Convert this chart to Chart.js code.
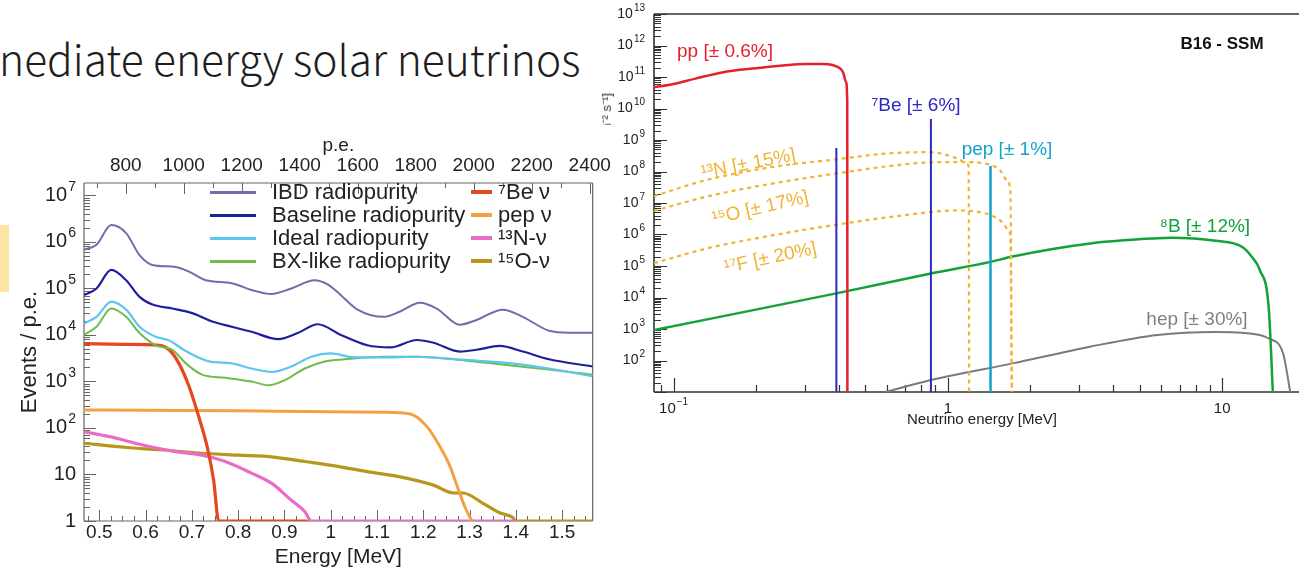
<!DOCTYPE html>
<html lang="en">
<head>
<meta charset="UTF-8">
<title>Intermediate energy solar neutrinos</title>
<script src="https://cdn.jsdelivr.net/npm/chart.js@4.4.1/dist/chart.umd.min.js"></script>
<style>
  html, body { margin: 0; padding: 0; background: #fff; }
  body {
    width: 1299px; height: 571px; overflow: hidden; position: relative;
    font-family: "Liberation Sans", Arial, sans-serif; color: #222;
  }
  .slide-title {
    position: absolute; left: -1px; top: 37px; line-height: 1;
    font-family: "Noto Sans CJK SC", "Noto Sans", sans-serif; font-weight: 300;
    font-size: 42.5px; color: #1e1e1e; white-space: nowrap;
  }
  .tab { position: absolute; left: 0; top: 225px; width: 9px; height: 67px; background: #fde4a2; z-index: 5; }
  #flux-wrap { position: absolute; left: 600px; top: 0; width: 720px; height: 440px; }
  #spectrum-wrap {
    position: absolute; left: 0; top: 125px; width: 617px; height: 446px;
    background: #fff; overflow: hidden; z-index: 2;
  }
  .legend-item { position: absolute; height: 24px; }
  .legend-item i { position: absolute; top: 11px; display: block; }
  .legend-item span { position: absolute; top: 0; line-height: 24px; font-size: 22px; white-space: nowrap; color: #222; }
  .note {
    position: absolute; white-space: nowrap; line-height: 1; font-size: 19px;
    transform: translate(-50%, -50%); z-index: 3;
  }
  .ytitle-frag {
    position: absolute; left: 600px; top: 93px; font-size: 13px; line-height: 13px;
    writing-mode: vertical-rl; transform: rotate(180deg); white-space: nowrap; color: #333;
  }
</style>
</head>
<body>
  <div class="slide-title">nediate energy solar neutrinos</div>
  <div class="tab"></div>

  <div id="flux-wrap"><canvas id="flux" width="720" height="440"></canvas></div>
  <div class="ytitle-frag">cm⁻² s⁻¹]</div>

  <div class="note" style="left:725px; top:50px; color:#e3202b;">pp [± 0.6%]</div>
  <div class="note" style="left:916px; top:104px; color:#2a2ac0;">⁷Be [± 6%]</div>
  <div class="note" style="left:1007px; top:148px; color:#12a4c8;">pep [± 1%]</div>
  <div class="note" style="left:1222px; top:43px; color:#111; font-weight:bold; font-size:17px;">B16 - SSM</div>
  <div class="note" style="left:1205px; top:225px; color:#12a23a;">⁸B [± 12%]</div>
  <div class="note" style="left:1197px; top:318px; color:#808080;">hep [± 30%]</div>
  <div class="note" style="left:748px; top:163px; color:#f2b233; transform:translate(-50%,-50%) rotate(-11deg);">¹³N [± 15%]</div>
  <div class="note" style="left:760px; top:207px; color:#f2b233; transform:translate(-50%,-50%) rotate(-13deg);">¹⁵O [± 17%]</div>
  <div class="note" style="left:770px; top:257px; color:#f2b233; transform:translate(-50%,-50%) rotate(-12deg);">¹⁷F [± 20%]</div>

  <div id="spectrum-wrap">
    <canvas id="spectrum" width="617" height="446"></canvas>
  </div>

<script>
  // ---- left panel: expected event spectra (Events / p.e. vs energy in MeV) ----
  const eIBD  = [0.467,0.494,0.526,0.558,0.587,0.615,0.665,0.694,0.73,0.786,0.829,0.872,0.915,0.965,0.995,1.015,1.058,1.115,1.15,1.193,1.229,1.279,1.315,1.372,1.415,1.472,1.515,1.566];
  const nIBD  = [6.8e5,8.7e5,2.3e6,1.55e6,5.2e5,3.2e5,2.9e5,2.3e5,1.5e5,1.3e5,9.3e4,7.6e4,1.0e5,1.5e5,1.2e5,8.3e4,3.5e4,2.45e4,3.2e4,4.9e4,3.7e4,1.66e4,2.1e4,3.5e4,2.45e4,1.23e4,1.12e4,1.12e4];
  const eBase = [0.467,0.494,0.526,0.558,0.587,0.615,0.658,0.701,0.744,0.786,0.829,0.887,0.929,0.972,1.022,1.079,1.129,1.186,1.222,1.279,1.315,1.365,1.415,1.472,1.566];
  const nBase = [7.2e4,1.0e5,2.5e5,1.5e5,6.6e4,4.5e4,3.7e4,2.95e4,1.95e4,1.5e4,1.17e4,8.1e3,1.1e4,1.7e4,1.0e4,6.0e3,5.4e3,7.8e3,6.8e3,4.4e3,4.8e3,5.8e3,4.4e3,3.0e3,2.1e3];
  const eIdeal = [0.467,0.494,0.526,0.558,0.587,0.622,0.651,0.687,0.737,0.786,0.829,0.872,0.915,0.958,1.0,1.05,1.115,1.186,1.293,1.40,1.472,1.566];
  const nIdeal = [1.75e4,2.45e4,5.2e4,3.5e4,1.5e4,9.1e3,7.6e3,4.5e3,2.7e3,2.45e3,1.9e3,1.6e3,2.1e3,3.4e3,4.0e3,3.3e3,3.3e3,3.4e3,2.9e3,2.4e3,1.9e3,1.3e3];
  const eBX   = [0.467,0.494,0.526,0.558,0.587,0.622,0.658,0.687,0.722,0.772,0.829,0.865,0.901,0.944,0.987,1.03,1.115,1.186,1.293,1.40,1.472,1.566];
  const nBX   = [1.0e4,1.5e4,3.7e4,2.45e4,1.1e4,6.0e3,4.8e3,2.45e3,1.4e3,1.2e3,1.0e3,830,1.07e3,1.9e3,2.7e3,3.0e3,3.4e3,3.4e3,2.8e3,2.15e3,1.8e3,1.4e3];
  const eBe7  = [0.467,0.55,0.63,0.651,0.672,0.694,0.715,0.733,0.747,0.758,0.95];
  const nBe7  = [6.5e3,6.3e3,6.0e3,4.8e3,2.45e3,780,174,40,7.6,1,1];
  const ePep  = [0.467,0.6,0.8,1.0,1.115,1.172,1.208,1.236,1.258,1.276,1.29,1.305];
  const nPep  = [245,240,234,224,219,200,107,40,14.8,4.7,2.0,1];
  const eN13  = [0.467,0.523,0.594,0.665,0.722,0.772,0.829,0.872,0.915,0.944,0.958,1.40];
  const nN13  = [83,65,43,31,26,19,10.7,6.5,2.8,1.6,1,1];
  const eO15  = [0.467,0.558,0.63,0.715,0.80,0.872,0.944,1.015,1.079,1.15,1.222,1.265,1.286,1.329,1.365,1.393,1.40,1.566];
  const nO15  = [47,38,34,29,26,24,19,15,11.5,8.9,5.9,4.0,4.0,2.4,1.5,1.2,1,1];

  const energyTicks = [0.5,0.6,0.7,0.8,0.9,1,1.1,1.2,1.3,1.4,1.5];
  const peTicks = [800,1000,1200,1400,1600,1800,2000,2200,2400];
  const eventTicks = [1,10,1e2,1e3,1e4,1e5,1e6,1e7];

  // ---- right panel: B16-SSM solar neutrino fluxes vs neutrino energy ----
  const ePP  = [0.0848,0.1,0.12,0.15,0.2,0.25,0.3,0.35,0.38,0.40,0.415,0.425,0.4295,0.43];
  const fPP  = [4.7e10,6.0e10,8.9e10,1.4e11,1.9e11,2.3e11,2.6e11,2.6e11,2.4e11,2.0e11,1.4e11,7e10,1.6e10,10];
  const eBe7Lines = [0.392,0.867];
  const fBe7Lines = [5.6e8,4.6e9];
  const ePepLine = [1.43];
  const fPepLine = [1.5e8];
  const eN13f = [0.0848,0.132,0.231,0.394,0.616,0.86,1.02,1.11,1.17,1.19,1.195];
  const fN13  = [1.66e7,5.4e7,1.41e8,2.45e8,3.8e8,4.1e8,3.1e8,2.3e8,1.8e8,1.4e8,10];
  const eO15f = [0.0848,0.132,0.231,0.394,0.616,0.86,1.14,1.38,1.55,1.64,1.69,1.71];
  const fO15  = [5.6e6,1.6e7,4.2e7,8.7e7,1.5e8,1.95e8,2.0e8,1.75e8,1.1e8,5.4e7,2.3e7,10];
  const eF17f = [0.0848,0.132,0.231,0.428,0.71,1.07,1.29,1.47,1.59,1.66,1.69,1.71];
  const fF17  = [1.23e5,3.6e5,9.5e5,2.3e6,4.2e6,5.8e6,5.2e6,3.7e6,2.3e6,1.4e6,8.5e5,10];
  const eB8  = [0.0848,0.392,0.867,1.43,1.72,3.3,5.8,6.5,9.46,11.8,12.8,13.7,14.8,15.3];
  const fB8  = [930,1.35e4,5.8e4,1.35e5,2.0e5,5.2e5,7.6e5,7.9e5,6.3e5,4.1e5,2.0e5,7.6e4,4.0e3,10];
  const eHep = [0.59,0.867,1.72,3.3,5.8,9.46,11.8,14.8,16.7,17.7];
  const fHep = [10,24,81,275,650,810,760,500,160,10];
  const fluxFloor = 10;

  const nuTicks = [0.1,1,10];
  const fluxTicks = [1e2,1e3,1e4,1e5,1e6,1e7,1e8,1e9,1e10,1e11,1e12,1e13];

  Chart.defaults.font.family = '"Liberation Sans", Arial, sans-serif';
  Chart.defaults.color = '#222';
  const FONT = '"Liberation Sans", Arial, sans-serif';

  function logMinors(lo, hi) {
    const out = [];
    for (let k = lo; k < hi; k++) for (let m = 2; m <= 9; m++) out.push(m * Math.pow(10, k));
    return out;
  }
  function steps(a, b, d) {
    const out = [];
    for (let v = a; v <= b + 1e-9; v += d) out.push(v);
    return out;
  }
  const pairs = (xs, ys) => xs.map((x, i) => ({x, y: ys[i]}));
  function verticals(xs, tops) {
    const out = [];
    xs.forEach((x, i) => { out.push({x, y: fluxFloor}, {x, y: tops[i]}, {x: x * 1.01, y: null}); });
    return out;
  }

  // draws "10" with a raised exponent, the way the original plots label decades
  function drawPow(ctx, v, x, y, align, size, supSize) {
    const k = Math.round(Math.log10(v));
    const base = k === 0 ? '1' : '10';
    const exp = (k === 0 || k === 1) ? '' : String(k).replace('-', '\u2212');
    ctx.font = size + 'px ' + FONT;
    const wb = ctx.measureText(base).width;
    ctx.font = supSize + 'px ' + FONT;
    const we = exp ? ctx.measureText(exp).width + 1 : 0;
    let x0 = x;
    if (align === 'right') x0 = x - wb - we;
    if (align === 'center') x0 = x - (wb + we) / 2;
    ctx.textAlign = 'left';
    ctx.textBaseline = 'middle';
    ctx.font = size + 'px ' + FONT;
    ctx.fillText(base, x0, y);
    if (exp) {
      ctx.font = supSize + 'px ' + FONT;
      ctx.fillText(exp, x0 + wb + 1, y - size * 0.42);
    }
  }

  // frame, inward tick marks and decade labels, ROOT style
  const axisMarks = {
    id: 'axisMarks',
    beforeDatasetsDraw(chart, args, opts) {
      const {ctx, chartArea: a} = chart;
      ctx.save();
      ctx.strokeStyle = opts.color;
      ctx.lineWidth = opts.frameWidth;
      ctx.beginPath();
      opts.frame.forEach(side => {
        if (side === 'left') { ctx.moveTo(a.left, a.top); ctx.lineTo(a.left, a.bottom); }
        if (side === 'right') { ctx.moveTo(a.right, a.top); ctx.lineTo(a.right, a.bottom); }
        if (side === 'top') { ctx.moveTo(a.left, a.top); ctx.lineTo(a.right, a.top); }
        if (side === 'bottom') { ctx.moveTo(a.left, a.bottom); ctx.lineTo(a.right, a.bottom); }
      });
      ctx.stroke();
      ctx.lineWidth = opts.tickWidth;
      opts.marks.forEach(m => {
        const s = chart.scales[m.scale];
        ctx.beginPath();
        m.values.forEach(v => {
          if (v < s.min || v > s.max) return;
          const p = Math.round(s.getPixelForValue(v)) + 0.5;
          if (m.side === 'left') { ctx.moveTo(a.left, p); ctx.lineTo(a.left + m.len, p); }
          if (m.side === 'bottom') { ctx.moveTo(p, a.bottom); ctx.lineTo(p, a.bottom - m.len); }
          if (m.side === 'top') { ctx.moveTo(p, a.top); ctx.lineTo(p, a.top + m.len); }
        });
        ctx.stroke();
      });
      ctx.fillStyle = opts.labelColor;
      (opts.powLabels || []).forEach(L => {
        const s = chart.scales[L.scale];
        L.values.forEach(v => {
          const p = s.getPixelForValue(v);
          if (L.side === 'left') drawPow(ctx, v, a.left - L.pad, p, 'right', L.size, L.sup);
          if (L.side === 'bottom') drawPow(ctx, v, p, a.bottom + L.pad, 'center', L.size, L.sup);
        });
      });
      ctx.restore();
    }
  };

  // ---------- left chart ----------
  const spectra = [
    {label: 'IBD radiopurity',      x: eIBD,  y: nIBD,  color: '#7d66aa', width: 2},
    {label: 'Baseline radiopurity', x: eBase, y: nBase, color: '#1f1f9e', width: 2.2},
    {label: 'Ideal radiopurity',    x: eIdeal,y: nIdeal,color: '#5cc6ef', width: 2.2},
    {label: 'BX-like radiopurity',  x: eBX,   y: nBX,   color: '#6dbd4b', width: 2},
    {label: '⁷Be ν',                x: eBe7,  y: nBe7,  color: '#e8461c', width: 3.2},
    {label: 'pep ν',                x: ePep,  y: nPep,  color: '#f2a244', width: 3},
    {label: '¹³N-ν',                x: eN13,  y: nN13,  color: '#eb6cc8', width: 3.2},
    {label: '¹⁵O-ν',                x: eO15,  y: nO15,  color: '#b8961c', width: 3.2}
  ];

  new Chart(document.getElementById('spectrum'), {
    type: 'line',
    data: {
      datasets: spectra.map(s => ({
        label: s.label, data: pairs(s.x, s.y), borderColor: s.color, borderWidth: s.width,
        pointRadius: 0, fill: false, cubicInterpolationMode: 'monotone'
      }))
    },
    options: {
      responsive: false, animation: false, devicePixelRatio: 1,
      layout: {padding: {left: 0, right: 20, top: 0, bottom: 0}},
      plugins: {
        legend: {display: false}, tooltip: {enabled: false},
        axisMarks: {
          color: '#666', frameWidth: 1.2, tickWidth: 1, labelColor: '#222',
          frame: ['left', 'right', 'top', 'bottom'],
          marks: [
            {scale: 'y', side: 'left', len: 12, values: eventTicks},
            {scale: 'y', side: 'left', len: 6, values: logMinors(0, 8)},
            {scale: 'x', side: 'bottom', len: 11, values: energyTicks},
            {scale: 'x', side: 'bottom', len: 5, values: steps(0.475, 1.575, 0.025)},
            {scale: 'pe', side: 'top', len: 11, values: peTicks},
            {scale: 'pe', side: 'top', len: 5, values: steps(700, 2400, 100)}
          ],
          powLabels: [{scale: 'y', side: 'left', pad: 8, size: 20, sup: 14, values: eventTicks}]
        }
      },
      scales: {
        x: {
          type: 'linear', position: 'bottom', min: 0.467, max: 1.566,
          afterBuildTicks: s => { s.ticks = energyTicks.map(v => ({value: v})); },
          afterFit: s => { s.height = 50; },
          grid: {display: false, drawTicks: false}, border: {display: false},
          ticks: {font: {size: 19}, padding: 0, maxRotation: 0, autoSkip: false, callback: v => String(v)},
          title: {display: true, text: 'Energy [MeV]', font: {size: 21}, padding: {top: 0, bottom: 1}}
        },
        pe: {
          type: 'linear', position: 'top', min: 656, max: 2410,
          afterBuildTicks: s => { s.ticks = peTicks.map(v => ({value: v})); },
          afterFit: s => { s.height = 58; },
          grid: {display: false, drawTicks: false}, border: {display: false},
          ticks: {font: {size: 19}, padding: 6, maxRotation: 0, autoSkip: false, callback: v => String(v)},
          title: {display: true, text: 'p.e.', font: {size: 19}, padding: {top: 9, bottom: 0}}
        },
        y: {
          type: 'logarithmic', position: 'left', min: 1, max: 1.85e7,
          afterBuildTicks: s => { s.ticks = eventTicks.map(v => ({value: v})); },
          afterFit: s => { s.width = 84; },
          grid: {display: false, drawTicks: false}, border: {display: false},
          ticks: {display: false},
          title: {display: true, text: 'Events / p.e.', font: {size: 22}, padding: {top: 17, bottom: 0}}
        }
      }
    },
    plugins: [axisMarks]
  });

  // two-column legend, built from the same series list
  const wrap = document.getElementById('spectrum-wrap');
  const rowsY = [67, 90, 113, 136];
  spectra.forEach((s, i) => {
    const col = i < 4 ? 0 : 1;
    const item = document.createElement('div');
    item.className = 'legend-item';
    item.style.top = (rowsY[i % 4] - 12) + 'px';
    item.style.left = (col === 0 ? 210 : 471) + 'px';
    const line = document.createElement('i');
    line.style.width = (col === 0 ? 46 : 21) + 'px';
    line.style.height = (col === 0 ? 3 : 4) + 'px';
    line.style.marginTop = (col === 0 ? 0 : -1) + 'px';
    line.style.background = s.color;
    const txt = document.createElement('span');
    txt.textContent = s.label;
    txt.style.left = (col === 0 ? 62 : 27) + 'px';
    item.appendChild(line);
    item.appendChild(txt);
    wrap.appendChild(item);
  });

  // ---------- right chart ----------
  const dashed = [4, 4];
  new Chart(document.getElementById('flux'), {
    type: 'line',
    data: {
      datasets: [
        {label: 'pp', data: pairs(ePP, fPP), borderColor: '#e3202b', borderWidth: 2.5, cubicInterpolationMode: 'monotone'},
        {label: '7Be', data: verticals(eBe7Lines, fBe7Lines), borderColor: '#2a2ac0', borderWidth: 2, tension: 0, spanGaps: false},
        {label: 'pep', data: verticals(ePepLine, fPepLine), borderColor: '#12a4c8', borderWidth: 2.5, tension: 0, spanGaps: false},
        {label: '13N', data: pairs(eN13f, fN13), borderColor: '#f2b233', borderWidth: 2.2, borderDash: dashed, cubicInterpolationMode: 'monotone'},
        {label: '15O', data: pairs(eO15f, fO15), borderColor: '#f2b233', borderWidth: 2.2, borderDash: dashed, cubicInterpolationMode: 'monotone'},
        {label: '17F', data: pairs(eF17f, fF17), borderColor: '#f2b233', borderWidth: 2.2, borderDash: dashed, cubicInterpolationMode: 'monotone'},
        {label: '8B', data: pairs(eB8, fB8), borderColor: '#12a23a', borderWidth: 2.5, cubicInterpolationMode: 'monotone'},
        {label: 'hep', data: pairs(eHep, fHep), borderColor: '#7a7a7a', borderWidth: 2, cubicInterpolationMode: 'monotone'}
      ].map(d => Object.assign({pointRadius: 0, fill: false}, d))
    },
    options: {
      responsive: false, animation: false, devicePixelRatio: 1,
      layout: {padding: {left: 0, right: 10, top: 14, bottom: 0}},
      plugins: {
        legend: {display: false}, tooltip: {enabled: false},
        axisMarks: {
          color: '#333', frameWidth: 1.6, tickWidth: 1.2, labelColor: '#222',
          frame: ['left', 'top', 'bottom'],
          marks: [
            {scale: 'y', side: 'left', len: 13, values: fluxTicks.concat([10])},
            {scale: 'y', side: 'left', len: 7, values: logMinors(1, 13)},
            {scale: 'x', side: 'bottom', len: 14, values: nuTicks},
            {scale: 'x', side: 'bottom', len: 7, values: logMinors(-2, 2)}
          ],
          powLabels: [
            {scale: 'y', side: 'left', pad: 9, size: 14, sup: 10, values: fluxTicks},
            {scale: 'x', side: 'bottom', pad: 17, size: 15, sup: 10, values: nuTicks}
          ]
        }
      },
      scales: {
        x: {
          type: 'logarithmic', position: 'bottom', min: 0.0848, max: 20.9,
          afterBuildTicks: s => { s.ticks = nuTicks.map(v => ({value: v})); },
          afterFit: s => { s.height = 48; },
          grid: {display: false, drawTicks: false}, border: {display: false},
          ticks: {display: false},
          title: {display: true, text: 'Neutrino energy [MeV]', font: {size: 15}, padding: {top: 0, bottom: 11}}
        },
        y: {
          type: 'logarithmic', position: 'left', min: fluxFloor, max: 1e13,
          afterBuildTicks: s => { s.ticks = fluxTicks.map(v => ({value: v})); },
          afterFit: s => { s.width = 54; },
          grid: {display: false, drawTicks: false}, border: {display: false},
          ticks: {display: false}
        }
      }
    },
    plugins: [axisMarks]
  });
</script>
</body>
</html>
